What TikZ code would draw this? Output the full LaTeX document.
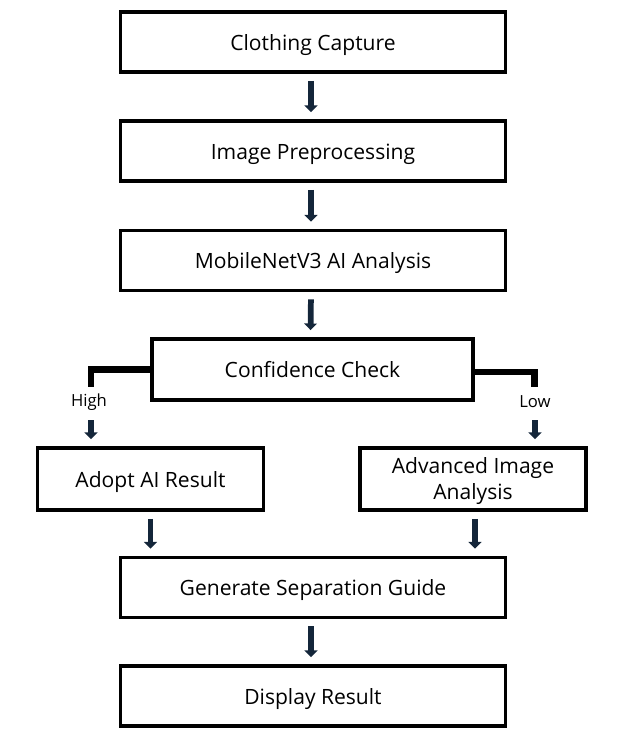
\documentclass[tikz,border=0pt]{standalone}
\usepackage{fontspec}
\setmainfont{Open Sans}
\usetikzlibrary{arrows.meta,calc}
\definecolor{arr}{HTML}{14263A}
\begin{document}
\begin{tikzpicture}[x=0.75pt,y=-0.75pt,
  box/.style={draw=black,line width=2.3pt,fill=white,minimum width=288.75pt,minimum height=45pt,inner sep=0pt,align=center,text height=15pt,text depth=3pt,font=\fontsize{15.8}{18}\selectfont},
  blk/.style={draw=arr,line width=4.3pt,-{Triangle[width=9.5pt,length=5pt]},shorten <=5.5pt,shorten >=5.5pt},
  elbow/.style={draw=black,line width=4.6pt,line join=miter},
  lbl/.style={font=\fontsize{12.5}{14}\selectfont,inner sep=0pt}]
\useasboundingbox (0,0) rectangle (624,747);
\node[box] (b1) at (313,42) {Clothing Capture};
\node[box] (b2) at (313,151) {Image Preprocessing};
\node[box] (b3) at (313,260.5) {MobileNetV3 AI Analysis};
\node[box,minimum width=240.75pt,minimum height=45.75pt] (b4) at (312.5,369.5) {Confidence Check};
\node[box,minimum width=169.5pt,minimum height=46.5pt] (b5) at (150.5,479) {Adopt AI Result};
\node[box,minimum width=169.5pt,minimum height=46.5pt,text height=10pt,text depth=18.6pt] (b6) at (473,479) {\begin{tabular}[t]{@{}c@{}}Advanced Image\\[1.5pt]Analysis\end{tabular}};
\node[box] (b7) at (313,587.5) {Generate Separation Guide};
\node[box] (b8) at (313,696) {Display Result};
% straight arrows
\draw[blk] ([xshift=-1.5pt]b1.south) -- ([xshift=-1.5pt]b2.north);
\draw[blk] ([xshift=-1.5pt]b2.south) -- ([xshift=-1.5pt]b3.north);
\draw[blk] ([xshift=-1.5pt]b3.south) -- ([xshift=-1.5pt]b4.north);
\draw[blk] (b5.south) -- (b5.south |- b7.north);
\draw[blk] ([xshift=1.5pt]b6.south) -- ([xshift=1.5pt]b6.south |- b7.north);
\draw[blk] ([xshift=-1.5pt]b7.south) -- ([xshift=-1.5pt]b8.north);
% branches
\coordinate (hc) at (91,387);
\coordinate (lc) at (534.5,387);
\draw[elbow] (b4.west) -| (hc);
\draw[elbow] ([yshift=-1.8pt]b4.east) -| (lc);
\node[lbl] (hl) at (89,402) {High};
\node[lbl] (ll) at (535,402) {Low};
\coordinate (ha) at (91,420);
\coordinate (la) at (535,420);
\draw[blk,shorten <=0pt] (ha) -- (ha |- b5.north);
\draw[blk,shorten <=0pt] (la) -- (la |- b6.north);
\end{tikzpicture}
\end{document}
